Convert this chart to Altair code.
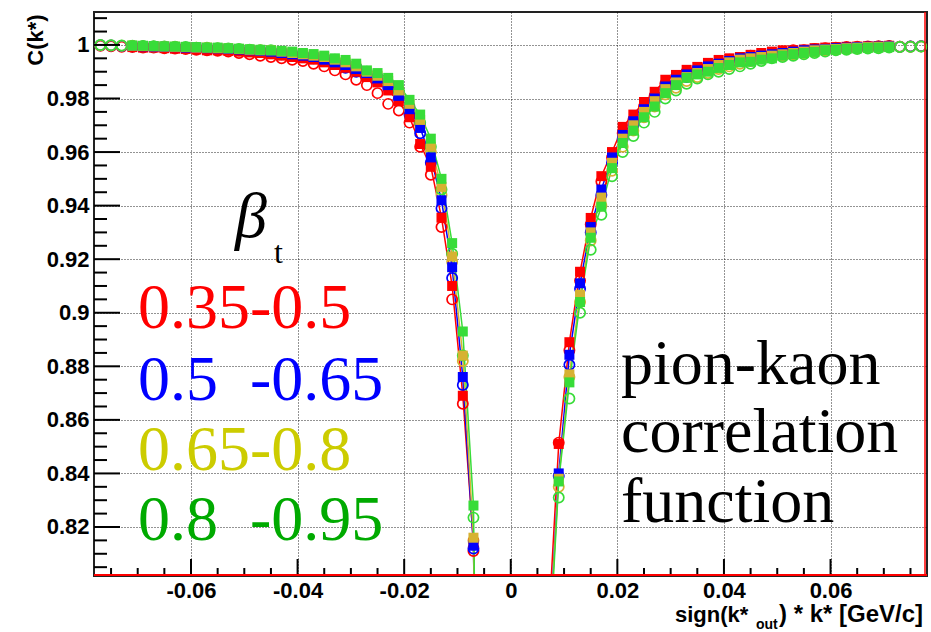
import altair as alt
import pandas as pd

# |k*| bin centres (GeV/c)
K = [0.007, 0.009, 0.011, 0.013, 0.015, 0.017, 0.019, 0.021, 0.023, 0.025,
     0.027, 0.029, 0.031, 0.033, 0.035, 0.037, 0.039, 0.041, 0.043, 0.045,
     0.047, 0.049, 0.051, 0.053, 0.055, 0.057, 0.059, 0.061, 0.063, 0.065,
     0.067, 0.069, 0.071, 0.073, 0.075, 0.077]

SERIES = ["0.35-0.5", "0.5-0.65", "0.65-0.8", "0.8-0.95"]
MARKER_COLORS = ["#ff0000", "#0000ff", "#d6b232", "#38dc38"]
TEXT_COLORS = ["#ff0000", "#0000ff", "#cccc00", "#00aa00"]
LABELS = ["0.35-0.5", "0.5\u00a0\u00a0-0.65", "0.65-0.8", "0.8\u00a0\u00a0-0.95"]

N = None
# negative side (k*_out < 0), filled markers
FILLED_LEFT = [
    [0.814, 0.869, 0.910, 0.9355, 0.9545, 0.963, 0.973, 0.979, 0.983, 0.986, 0.988, 0.990, 0.9915, 0.9925, 0.9935, 0.9945, 0.995, 0.9955, 0.996, 0.9965, 0.997, 0.9972, 0.9975, 0.9978, 0.998, 0.998, 0.9983, 0.9985, 0.9986, 0.9988, 0.999, 0.999, 0.9992, N, N, N],
    [0.813, 0.876, 0.917, 0.942, 0.958, 0.969, 0.976, 0.981, 0.985, 0.9875, 0.9895, 0.991, 0.9925, 0.9935, 0.9945, 0.9955, 0.996, 0.9965, 0.997, 0.9975, 0.9978, 0.998, 0.9983, 0.9985, 0.9987, 0.9988, 0.999, 0.999, 0.9992, 0.9993, 0.9994, 0.9995, 0.9996, N, N, N],
    [0.816, 0.884, 0.921, 0.947, 0.962, 0.972, 0.978, 0.983, 0.9865, 0.9885, 0.990, 0.992, 0.9935, 0.9945, 0.9955, 0.996, 0.9965, 0.997, 0.9975, 0.998, 0.998, 0.9982, 0.9985, 0.9987, 0.9988, 0.999, 0.999, 0.9992, 0.9993, 0.9994, 0.9995, 0.9996, 0.9997, N, N, N],
    [0.828, 0.893, 0.926, 0.950, 0.965, 0.974, 0.9795, 0.985, 0.9877, 0.9895, 0.9905, 0.993, 0.9944, 0.995, 0.996, 0.9966, 0.997, 0.9975, 0.9978, 0.998, 0.9982, 0.9984, 0.9986, 0.9988, 0.999, 0.999, 0.9992, 0.9993, 0.9994, 0.9995, 0.9996, 0.9997, 0.9998, N, N, N],
]
# negative side, open markers
OPEN_LEFT = [
    [0.811, 0.866, 0.905, 0.932, 0.9515, 0.962, 0.971, 0.9755, 0.978, 0.982, 0.985, 0.987, 0.989, 0.9905, 0.992, 0.993, 0.994, 0.9945, 0.995, 0.9955, 0.996, 0.9965, 0.997, 0.9975, 0.9978, 0.998, 0.9982, 0.9985, 0.9987, 0.9988, 0.999, 0.999, 0.9992, 0.9993, 0.9995, 0.9997],
    [0.812, 0.873, 0.913, 0.939, 0.956, 0.967, 0.974, 0.980, 0.984, 0.9865, 0.9885, 0.990, 0.9915, 0.993, 0.994, 0.995, 0.9955, 0.996, 0.9965, 0.997, 0.9975, 0.9978, 0.998, 0.9983, 0.9985, 0.9987, 0.9988, 0.999, 0.9991, 0.9992, 0.9993, 0.9994, 0.9995, 0.9996, 0.9998, 0.9999],
    [0.815, 0.882, 0.919, 0.944, 0.960, 0.970, 0.976, 0.982, 0.9855, 0.9875, 0.9895, 0.9915, 0.993, 0.994, 0.995, 0.9955, 0.996, 0.9965, 0.997, 0.9975, 0.998, 0.998, 0.9983, 0.9985, 0.9987, 0.9988, 0.999, 0.999, 0.9992, 0.9993, 0.9994, 0.9995, 0.9996, 0.9997, 0.9998, 0.9999],
    [0.8235, 0.884, 0.922, 0.946, 0.962, 0.971, 0.977, 0.983, 0.986, 0.988, 0.990, 0.992, 0.9935, 0.9945, 0.9955, 0.996, 0.9965, 0.997, 0.9975, 0.998, 0.998, 0.9982, 0.9985, 0.9987, 0.9988, 0.999, 0.999, 0.9992, 0.9993, 0.9994, 0.9995, 0.9996, 0.9997, 0.9998, 0.9999, 1.0],
]
# positive side (k*_out > 0), filled markers
FILLED_RIGHT = [
    [N, 0.851, 0.889, 0.9153, 0.9354, 0.951, 0.960, 0.9694, 0.974, 0.9787, 0.9825, 0.987, 0.9888, 0.9907, 0.9918, 0.9933, 0.9944, 0.995, 0.9955, 0.9963, 0.997, 0.9975, 0.998, 0.998, 0.9983, 0.9988, 0.999, 0.9992, 0.9993, 0.9994, 0.9995, 0.9996, 0.9997, N, N, N],
    [N, 0.840, 0.8843, 0.911, 0.932, 0.946, 0.958, 0.9664, 0.9715, 0.976, 0.980, 0.9845, 0.987, 0.989, 0.9905, 0.992, 0.993, 0.994, 0.995, 0.9955, 0.996, 0.9965, 0.997, 0.9975, 0.998, 0.9983, 0.9985, 0.9988, 0.999, 0.9992, 0.9993, 0.9994, 0.9995, N, N, N],
    [N, 0.838, 0.877, 0.9067, 0.930, 0.943, 0.956, 0.965, 0.970, 0.975, 0.979, 0.9835, 0.986, 0.988, 0.9895, 0.991, 0.9925, 0.9935, 0.9945, 0.995, 0.9955, 0.996, 0.9965, 0.997, 0.9975, 0.998, 0.9983, 0.9985, 0.9988, 0.999, 0.9992, 0.9993, 0.9994, N, N, N],
    [N, 0.837, 0.874, 0.904, 0.928, 0.9396, 0.954, 0.9634, 0.968, 0.973, 0.977, 0.982, 0.985, 0.9877, 0.989, 0.990, 0.9914, 0.9925, 0.9935, 0.9937, 0.9945, 0.995, 0.996, 0.9965, 0.997, 0.9974, 0.998, 0.9982, 0.9985, 0.9987, 0.9989, 0.999, 0.9992, N, N, N],
]
# positive side, open markers
OPEN_RIGHT = [
    [N, 0.8515, 0.886, 0.912, 0.933, 0.949, 0.958, 0.967, 0.972, 0.977, 0.981, 0.9855, 0.988, 0.990, 0.991, 0.9925, 0.9935, 0.9945, 0.995, 0.996, 0.9965, 0.997, 0.9975, 0.998, 0.998, 0.9985, 0.9988, 0.999, 0.9992, 0.9993, 0.9994, 0.9995, 0.9996, 0.9993, 0.9994, 0.9995],
    [N, 0.839, 0.8806, 0.909, 0.930, 0.944, 0.956, 0.965, 0.970, 0.975, 0.979, 0.9835, 0.986, 0.988, 0.9895, 0.991, 0.9925, 0.9935, 0.9945, 0.995, 0.9955, 0.996, 0.9965, 0.997, 0.9975, 0.998, 0.9983, 0.9985, 0.9988, 0.999, 0.9992, 0.9993, 0.9994, 0.9993, 0.9994, 0.9995],
    [N, 0.835, 0.876, 0.904, 0.927, 0.940, 0.953, 0.962, 0.968, 0.973, 0.977, 0.9815, 0.984, 0.9865, 0.988, 0.9895, 0.991, 0.992, 0.993, 0.994, 0.995, 0.9955, 0.996, 0.9965, 0.997, 0.9975, 0.998, 0.9983, 0.9985, 0.9988, 0.999, 0.9991, 0.9992, 0.9993, 0.9993, 0.9994],
    [N, 0.831, 0.868, 0.900, 0.9235, 0.9366, 0.951, 0.960, 0.966, 0.971, 0.975, 0.980, 0.983, 0.9855, 0.9875, 0.989, 0.990, 0.991, 0.992, 0.993, 0.994, 0.995, 0.9955, 0.996, 0.9965, 0.997, 0.9975, 0.998, 0.9982, 0.9985, 0.9987, 0.9988, 0.999, 0.9992, 0.9993, 0.9994],
]
# fit-curve points just inside the lowest bins (run off the bottom of the frame)
LINE_INNER_K_LEFT = 0.0062
LINE_INNER_LEFT = [0.70, 0.70, 0.70, 0.70]
LINE_INNER_K_RIGHT = 0.007
LINE_INNER_RIGHT = [0.78, 0.77, 0.77, 0.765]

Y_MAJOR = [0.82, 0.84, 0.86, 0.88, 0.9, 0.92, 0.94, 0.96, 0.98, 1.0]
Y_MINOR = [0.805, 0.81, 0.815, 0.825, 0.83, 0.835, 0.845, 0.85, 0.855, 0.865, 0.87, 0.875,
           0.885, 0.89, 0.895, 0.905, 0.91, 0.915, 0.925, 0.93, 0.935, 0.945, 0.95, 0.955,
           0.965, 0.97, 0.975, 0.985, 0.99, 0.995, 1.005, 1.01]
X_MAJOR = [-0.06, -0.04, -0.02, 0.0, 0.02, 0.04, 0.06]
X_MINOR = [-0.075, -0.07, -0.065, -0.055, -0.05, -0.045, -0.035, -0.03, -0.025, -0.015,
           -0.01, -0.005, 0.005, 0.01, 0.015, 0.025, 0.03, 0.035, 0.045, 0.05, 0.055,
           0.065, 0.07, 0.075]

X_DOMAIN = [-0.0782, 0.0781]
Y_DOMAIN = [0.8017, 1.0123]

W, H = 833, 564

# ---- build tables ----
pts_f, pts_o, lines = [], [], []
for i, s in enumerate(SERIES):
    for sign, farr, oarr, side in ((-1, FILLED_LEFT[i], OPEN_LEFT[i], "L"),
                                   (1, FILLED_RIGHT[i], OPEN_RIGHT[i], "R")):
        for k, v in zip(K, farr):
            if v is not None:
                pts_f.append({"x": sign * k, "y": v, "series": s})
                lines.append({"x": sign * k, "y": v, "series": s, "grp": s + side})
        for k, v in zip(K, oarr):
            if v is not None:
                pts_o.append({"x": sign * k, "y": v, "series": s})
    lines.append({"x": -LINE_INNER_K_LEFT, "y": LINE_INNER_LEFT[i], "series": s, "grp": s + "L"})
    lines.append({"x": LINE_INNER_K_RIGHT, "y": LINE_INNER_RIGHT[i], "series": s, "grp": s + "R"})

df_f = pd.DataFrame(pts_f)
df_o = pd.DataFrame(pts_o)
df_l = pd.DataFrame(lines)

AXIS_FONT = "Liberation Sans"
lab_expr = "replace(format(datum.value, '.2~f'), '\u2212', '-')"

x_enc = alt.X("x:Q", scale=alt.Scale(domain=X_DOMAIN, nice=False, zero=False),
              axis=alt.Axis(values=X_MAJOR, grid=True, ticks=False, tickSize=0, domain=False,
                            title=None, labelExpr=lab_expr, labelFont=AXIS_FONT,
                            labelFontSize=22, labelFontWeight="bold", labelColor="#000",
                            labelPadding=4, labelOverlap=False, labelFlush=False,
                            gridDash=[1, 2], gridColor="#000", gridOpacity=0.85, gridWidth=1))
y_enc = alt.Y("y:Q", scale=alt.Scale(domain=Y_DOMAIN, nice=False, zero=False),
              axis=alt.Axis(values=Y_MAJOR, grid=True, ticks=False, tickSize=0, domain=False,
                            title=None, labelExpr=lab_expr, labelFont=AXIS_FONT,
                            labelFontSize=22, labelFontWeight="bold", labelColor="#000",
                            labelPadding=5, labelOverlap=False, labelFlush=False,
                            gridDash=[1, 2], gridColor="#000", gridOpacity=0.85, gridWidth=1))
color = alt.Color("series:N", scale=alt.Scale(domain=SERIES, range=MARKER_COLORS), legend=None)

line_layer = alt.Chart(df_l).mark_line(strokeWidth=1.5, clip=True).encode(
    x=x_enc, y=y_enc, color=color, detail="grp:N", order="x:Q")
open_layer = alt.Chart(df_o).mark_point(shape="circle", filled=False, size=105,
                                        strokeWidth=1.7, opacity=1).encode(
    x=x_enc, y=y_enc, color=color)
fill_layer = alt.Chart(df_f).mark_point(shape="square", filled=True, size=100,
                                        opacity=1).encode(
    x=x_enc, y=y_enc, color=color)

# axis ticks drawn inside the frame (ROOT style)
ytick_major = alt.Chart(pd.DataFrame({"y": Y_MAJOR})).mark_rule(color="#000", strokeWidth=2).encode(
    y=y_enc, x=alt.value(0), x2=alt.value(26))
ytick_minor = alt.Chart(pd.DataFrame({"y": Y_MINOR})).mark_rule(color="#000", strokeWidth=2).encode(
    y=y_enc, x=alt.value(0), x2=alt.value(13))
xtick_major = alt.Chart(pd.DataFrame({"x": X_MAJOR})).mark_rule(color="#000", strokeWidth=2).encode(
    x=x_enc, y=alt.value(H), y2=alt.value(H - 17))
xtick_minor = alt.Chart(pd.DataFrame({"x": X_MINOR})).mark_rule(color="#000", strokeWidth=2).encode(
    x=x_enc, y=alt.value(H), y2=alt.value(H - 8))

red_bottom = alt.Chart(alt.Data(values=[{}])).mark_rule(color="#ff0000", strokeWidth=2).encode(
    x=alt.value(0), x2=alt.value(W), y=alt.value(H - 1))
red_right = alt.Chart(alt.Data(values=[{}])).mark_rule(color="#ff0000", strokeWidth=1.5).encode(
    x=alt.value(W - 2), y=alt.value(0), y2=alt.value(H))


def label(text, x, y, size, color="#000", font="Liberation Serif", weight="normal",
          style="normal", align="left", angle=0, baseline="alphabetic"):
    return alt.Chart(alt.Data(values=[{}])).mark_text(
        text=text, font=font, fontSize=size, fontWeight=weight, fontStyle=style,
        color=color, align=align, angle=angle, baseline=baseline).encode(
        x=alt.value(x), y=alt.value(y))


texts = [
    label("\u03b2", 141, 225, 64, style="italic"),
    label("t", 180, 251, 32),
    label(LABELS[0], 44, 316, 64, color=TEXT_COLORS[0]),
    label(LABELS[1], 44, 388, 64, color=TEXT_COLORS[1]),
    label(LABELS[2], 44, 458, 64, color=TEXT_COLORS[2]),
    label(LABELS[3], 44, 528, 64, color=TEXT_COLORS[3]),
    label("pion-kaon", 527, 372, 64),
    label("correlation", 527, 440, 64),
    label("function", 527, 510, 64),
    label("C(k*)", -58, 28, 22, font=AXIS_FONT, weight="bold", align="center",
          angle=270, baseline="middle"),
    label("sign(k*", 581, 610, 22, font=AXIS_FONT, weight="bold"),
    label("out", 662, 617, 14, font=AXIS_FONT, weight="bold"),
    label(") * k* [GeV/c]", 685, 610, 24, font=AXIS_FONT, weight="bold"),
]

chart = alt.layer(
    line_layer, open_layer, fill_layer,
    ytick_major, ytick_minor, xtick_major, xtick_minor,
    red_bottom, red_right, *texts
).properties(
    width=W, height=H,
    autosize=alt.AutoSizeParams(type="none"),
    padding={"left": 94, "top": 12, "right": 4, "bottom": 56},
    background="#ffffff",
).configure_view(stroke="#222", strokeWidth=2)

chart.save("out.html", embed_options={"renderer": "svg", "actions": False})
